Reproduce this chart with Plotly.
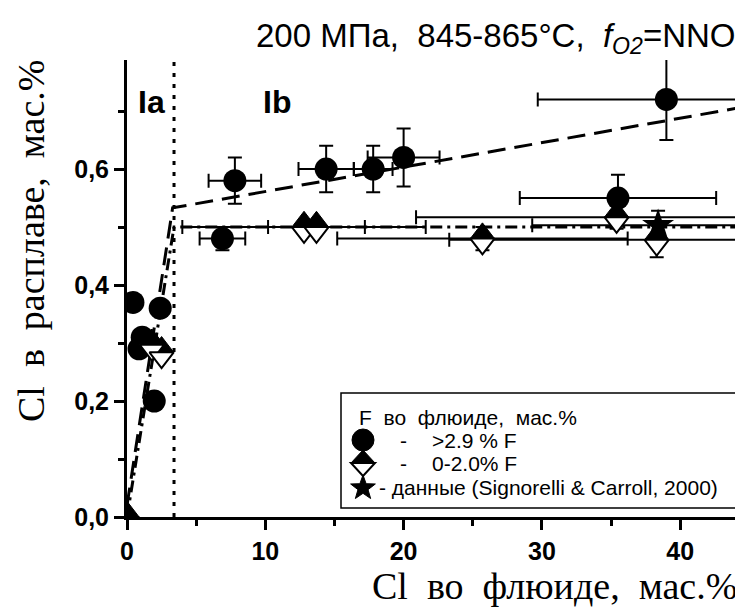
import math
import plotly.graph_objects as go

# ---------------- data ----------------
circ_x = [0.43, 2.4, 1.1, 0.87, 1.97, 6.9, 7.8, 14.4, 17.8, 20.0, 35.5, 39.0]
circ_y = [0.37, 0.36, 0.31, 0.29, 0.20, 0.48, 0.58, 0.60, 0.60, 0.62, 0.55, 0.72]
circ_xerr = [0, 0, 0, 0, 0, 1.65, 1.9, 2.0, 1.4, 2.6, 7.1, 9.3]
circ_yerr = [0, 0, 0, 0, 0, 0.02, 0.04, 0.04, 0.04, 0.05, 0.04, 0.07]

dia_x = [0.0, 1.8, 2.5, 12.8, 13.7, 25.7, 35.4, 38.3]
dia_y = [0.0, 0.297, 0.284, 0.50, 0.50, 0.48, 0.517, 0.478]
dia_xerr = [0, 0, 0, 8.8, 3.5, 10.5, 14.5, 15.0]
dia_yerr = [0, 0, 0, 0, 0, 0.02, 0.02, 0.03]

star_x = [38.4]
star_y = [0.503]
star_xerr = [9.1]
star_yerr = [0.025]

fit_circ_x = [0.0, 3.3, 44.6]
fit_circ_y = [0.02, 0.533, 0.707]
fit_dia_x = [0.0, 3.4, 44.6]
fit_dia_y = [0.0, 0.50, 0.50]
boundary_x = 3.4

y_tickvals = [0.0, 0.2, 0.4, 0.6]
y_ticktext = ["0,0", "0,2", "0,4", "0,6"]
x_tickvals = [0, 10, 20, 30, 40]
x_ticktext = ["0", "10", "20", "30", "40"]

# ---------------- layout geometry ----------------
OFF = 8                      # page body margin of the browser
W, H = 743 - OFF, 610 - OFF
PL, PT, PW, PH = 127, 60, 616, 457   # plot area in screen pixels
ML, MT = PL - OFF, PT - OFF
MR = W - ML - PW
MB = H - MT - PH
XR = [0, 44.54]
YR = [0, 0.788]

def px(xp):
    return (xp - PL) / PW

def py(yp):
    return (PT + PH - yp) / PH

SANS = "Liberation Sans, Arial, sans-serif"
SERIF = "Liberation Serif, Times New Roman, serif"

# half-diamond marker: two triangles offset by r/2 pixels via shifted overlay axes
TRI = 21
shift = (TRI / 4.0) * (YR[1] - YR[0]) / PH

fig = go.Figure()

# fit lines
fig.add_trace(go.Scatter(x=fit_circ_x, y=fit_circ_y, mode="lines",
                         line=dict(color="black", width=3, dash="18px,9px"),
                         showlegend=False, hoverinfo="skip"))
fig.add_trace(go.Scatter(x=fit_dia_x, y=fit_dia_y, mode="lines",
                         line=dict(color="black", width=3, dash="12px,5px,3px,5px"),
                         showlegend=False, hoverinfo="skip"))

def err_trace(xs, ys, xe, ye):
    idx = [i for i in range(len(xs)) if xe[i] > 0 or ye[i] > 0]
    return go.Scatter(
        x=[xs[i] for i in idx], y=[ys[i] for i in idx], mode="markers",
        marker=dict(size=2, color="rgba(0,0,0,0)"),
        error_x=dict(type="data", array=[xe[i] for i in idx], color="black",
                     thickness=2, width=7),
        error_y=dict(type="data", array=[ye[i] for i in idx], color="black",
                     thickness=2, width=7),
        showlegend=False, hoverinfo="skip")

fig.add_trace(err_trace(dia_x, dia_y, dia_xerr, dia_yerr))
fig.add_trace(err_trace(star_x, star_y, star_xerr, star_yerr))
fig.add_trace(err_trace(circ_x, circ_y, circ_xerr, circ_yerr))

fig.add_trace(go.Scatter(x=circ_x, y=circ_y, mode="markers",
                         marker=dict(symbol="circle", size=23, color="black"),
                         showlegend=False))
fig.add_trace(go.Scatter(x=star_x, y=star_y, mode="markers",
                         marker=dict(symbol="star", size=24, color="black"),
                         showlegend=False))

# diamonds: bottom open half (shifted down) and top filled half (shifted up)
fig.add_trace(go.Scatter(x=dia_x, y=dia_y, mode="markers", yaxis="y3",
                         marker=dict(symbol="triangle-down", size=TRI, color="white",
                                     line=dict(color="black", width=2)),
                         showlegend=False))
fig.add_trace(go.Scatter(x=dia_x, y=dia_y, mode="markers", yaxis="y2",
                         marker=dict(symbol="triangle-up", size=TRI, color="black",
                                     line=dict(color="black", width=1)),
                         showlegend=False))

axis_common = dict(showline=True, linewidth=3, linecolor="black", ticks="outside",
                   ticklen=10, tickwidth=2.5, tickcolor="black", showgrid=False,
                   zeroline=False, mirror=False,
                   tickfont=dict(family=SANS, size=25, color="black", weight="bold"))

fig.update_layout(
    width=W, height=H,
    margin=dict(l=ML, r=MR, t=MT, b=MB, pad=0),
    paper_bgcolor="white", plot_bgcolor="white",
    showlegend=False,
    xaxis=dict(range=XR, tickvals=x_tickvals, ticktext=x_ticktext,
               minor=dict(ticks="outside", ticklen=6, tickwidth=2.5, tickcolor="black",
                          dtick=5, tick0=0), **axis_common),
    yaxis=dict(range=YR, tickvals=y_tickvals, ticktext=y_ticktext,
               minor=dict(ticks="outside", ticklen=6, tickwidth=2.5, tickcolor="black",
                          dtick=0.1, tick0=0), **axis_common),
    yaxis2=dict(range=[YR[0] - shift, YR[1] - shift], overlaying="y", visible=False),
    yaxis3=dict(range=[YR[0] + shift, YR[1] + shift], overlaying="y", visible=False),
)

# boundary dotted line
fig.add_shape(type="line", xref="x", yref="paper", x0=boundary_x, x1=boundary_x,
              y0=0, y1=1, line=dict(color="black", width=3, dash="4px,7px"),
              layer="below")

annots = []
# title
annots.append(dict(text="200 МПа,&nbsp; 845-865°C,&nbsp; <i>f</i><sub><i>O2</i></sub>=NNO",
                   x=px(738), y=py(38), xanchor="right", yanchor="middle",
                   font=dict(family=SANS, size=33, color="black")))
# region labels
annots.append(dict(text="<b>Ia</b>", x=px(151), y=py(102), xanchor="center",
                   yanchor="middle", font=dict(family=SANS, size=32, color="black")))
annots.append(dict(text="<b>Ib</b>", x=px(277), y=py(102), xanchor="center",
                   yanchor="middle", font=dict(family=SANS, size=32, color="black")))
# axis titles
annots.append(dict(text="Cl\u00a0 во\u00a0 флюиде,\u00a0 мас.%", x=px(739), y=py(586),
                   xanchor="right", yanchor="middle",
                   font=dict(family=SERIF, size=38, color="black")))
annots.append(dict(text="Cl\u00a0 в\u00a0 расплаве,\u00a0 мас.%", x=px(31), y=py(241),
                   xanchor="center", yanchor="middle", textangle=-90,
                   font=dict(family=SERIF, size=38, color="black")))
# legend texts
LF = dict(family=SANS, size=21, color="black")
annots.append(dict(text="F\u00a0 во\u00a0 флюиде,\u00a0 мас.%", x=px(357), y=py(417),
                   xanchor="left", yanchor="middle", font=LF))
annots.append(dict(text="-", x=px(403), y=py(440), xanchor="center", yanchor="middle", font=LF))
annots.append(dict(text="&gt;2.9 % F", x=px(430), y=py(440), xanchor="left", yanchor="middle", font=LF))
annots.append(dict(text="-", x=px(403), y=py(463), xanchor="center", yanchor="middle", font=LF))
annots.append(dict(text="0-2.0% F", x=px(430), y=py(463), xanchor="left", yanchor="middle", font=LF))
annots.append(dict(text="- данные (Signorelli &amp; Carroll, 2000)", x=px(377), y=py(487),
                   xanchor="left", yanchor="middle", font=LF))
for a in annots:
    a.update(xref="paper", yref="paper", showarrow=False)
fig.update_layout(annotations=annots)

# legend frame and symbols
fig.add_shape(type="rect", xref="paper", yref="paper", x0=px(341), x1=px(736),
              y0=py(508), y1=py(393), line=dict(color="black", width=1.5),
              fillcolor="white", layer="above")

def sym_shape(cx, cy, **kw):
    d = dict(xref="paper", yref="paper", xsizemode="pixel", ysizemode="pixel",
             xanchor=px(cx), yanchor=py(cy), layer="above")
    d.update(kw)
    fig.add_shape(**d)

sym_shape(363, 440, type="circle", x0=-11, x1=11, y0=-11, y1=11,
          fillcolor="black", line=dict(color="black", width=1))
sym_shape(363, 463, type="path", path="M -12,0 L 12,0 L 0,-13 Z",
          fillcolor="white", line=dict(color="black", width=2))
sym_shape(363, 463, type="path", path="M -12,0 L 12,0 L 0,13 Z",
          fillcolor="black", line=dict(color="black", width=1))
pts = []
for k in range(10):
    rr = 13 if k % 2 == 0 else 5.3
    ang = math.pi / 2 + k * math.pi / 5
    pts.append("%.2f,%.2f" % (rr * math.cos(ang), rr * math.sin(ang)))
sym_shape(363, 488, type="path", path="M " + " L ".join(pts) + " Z",
          fillcolor="black", line=dict(color="black", width=1))

fig.write_html("out.html")
